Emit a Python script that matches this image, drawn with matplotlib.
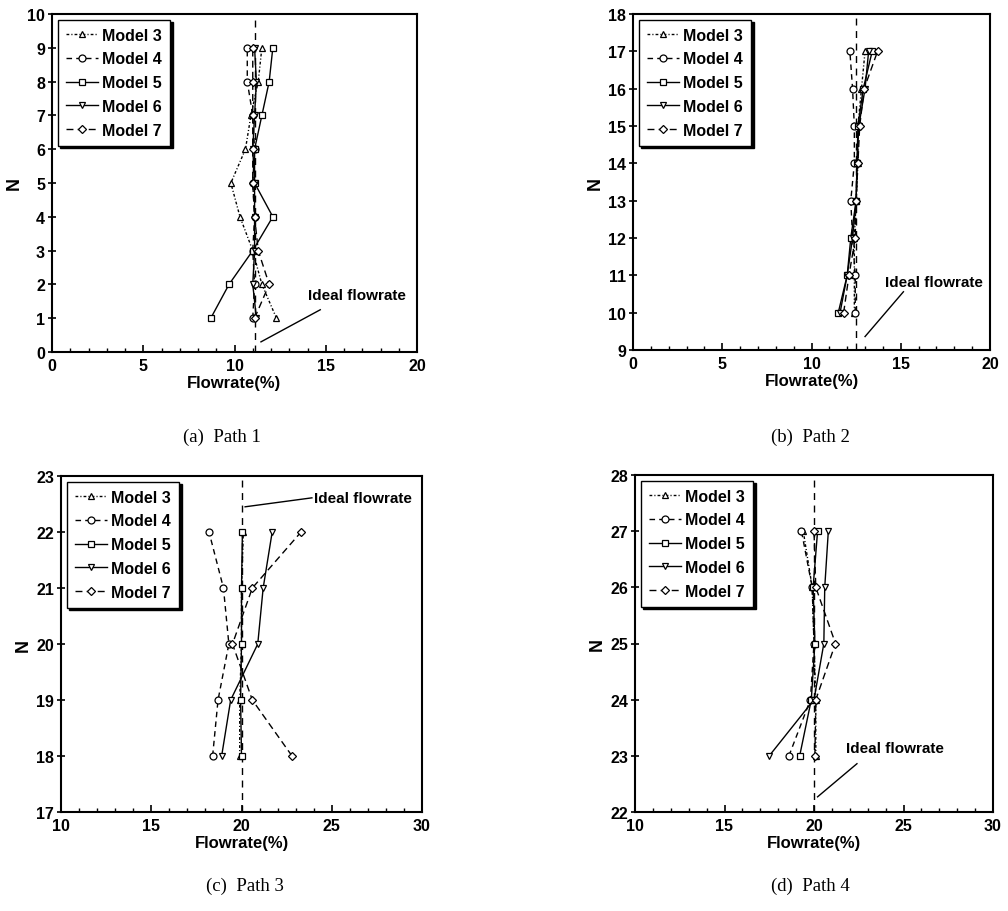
import matplotlib
matplotlib.use("Agg")
import matplotlib.pyplot as plt
from matplotlib.ticker import MultipleLocator

# ---------------- data ----------------
models = ["Model 3", "Model 4", "Model 5", "Model 6", "Model 7"]

a_N = [1, 2, 3, 4, 5, 6, 7, 8, 9]
a_m3 = [12.3, 11.5, 11.0, 10.3, 9.8, 10.6, 10.9, 11.3, 11.5]
a_m4 = [11.0, 11.1, 11.0, 11.1, 11.0, 11.1, 11.0, 10.7, 10.7]
a_m5 = [8.7, 9.7, 11.0, 12.1, 11.1, 11.1, 11.5, 11.9, 12.1]
a_m6 = [11.2, 11.0, 11.1, 11.1, 11.1, 11.0, 11.1, 11.2, 11.1]
a_m7 = [11.1, 11.9, 11.3, 11.1, 11.0, 11.0, 11.0, 11.0, 11.0]

b_N = [10, 11, 12, 13, 14, 15, 16, 17]
b_m3 = [12.4, 12.4, 12.4, 12.5, 12.6, 12.6, 12.8, 13.0]
b_m4 = [12.45, 12.45, 12.3, 12.2, 12.4, 12.4, 12.3, 12.15]
b_m5 = [11.5, 12.0, 12.2, 12.5, 12.55, 12.6, 12.9, 13.4]
b_m6 = [11.6, 12.0, 12.3, 12.5, 12.55, 12.65, 13.0, 13.2]
b_m7 = [11.8, 12.1, 12.45, 12.5, 12.6, 12.7, 12.95, 13.7]

c_N = [18, 19, 20, 21, 22]
c_m3 = [19.9, 19.9, 20.0, 20.0, 20.1]
c_m4 = [18.4, 18.7, 19.3, 19.0, 18.2]
c_m5 = [20.0, 19.95, 20.0, 20.0, 20.05]
c_m6 = [18.9, 19.4, 20.9, 21.2, 21.7]
c_m7 = [22.8, 20.6, 19.5, 20.6, 23.3]

d_N = [23, 24, 25, 26, 27]
d_m3 = [20.1, 20.1, 20.0, 19.9, 19.4]
d_m4 = [18.6, 19.8, 20.0, 19.9, 19.3]
d_m5 = [19.2, 19.85, 20.05, 19.95, 20.2]
d_m6 = [17.5, 20.0, 20.55, 20.6, 20.8]
d_m7 = [20.05, 20.1, 21.2, 20.1, 20.0]

ideal = [100 / 9, 12.5, 20.0, 20.0]
captions = ["(a)  Path 1", "(b)  Path 2", "(c)  Path 3", "(d)  Path 4"]
xlims = [(0, 20), (0, 20), (10, 30), (10, 30)]
ylims = [(0, 10), (9, 18), (17, 23), (22, 28)]

# ---------------- style ----------------
W, H = 1008, 912
fig = plt.figure(figsize=(W / 100, H / 100), dpi=100)
fig.patch.set_facecolor("white")

narrow = ["Liberation Sans Narrow", "Liberation Sans", "DejaVu Sans"]
serif = ["Liberation Serif", "DejaVu Serif"]

styles = [
    dict(marker="^", linestyle=(0, (2, 1.5, 0.8, 1.5))),
    dict(marker="o", linestyle=(0, (4, 3))),
    dict(marker="s", linestyle="-"),
    dict(marker="v", linestyle="-"),
    dict(marker="D", linestyle=(0, (5, 3)), markersize=4.5),
]

# axes pixel boxes: left, top, right, bottom
boxes = [(52, 15, 417, 353), (633, 15, 990, 351), (61, 477, 422, 813), (635, 476, 993, 813)]
cap_pos = [(222, 437), (810, 437), (245, 886), (810, 886)]

# annotation: text position (x, y data), line from, line to
annots = [
    ((14.0, 1.69), (14.7, 1.25), (11.45, 0.3)),
    ((14.1, 10.83), (15.15, 10.56), (13.0, 9.36)),
    ((24.0, 22.61), (23.9, 22.61), (20.2, 22.45)),
    ((21.8, 23.14), (22.4, 22.86), (20.2, 22.27)),
]

series = [
    (a_N, [a_m3, a_m4, a_m5, a_m6, a_m7]),
    (b_N, [b_m3, b_m4, b_m5, b_m6, b_m7]),
    (c_N, [c_m3, c_m4, c_m5, c_m6, c_m7]),
    (d_N, [d_m3, d_m4, d_m5, d_m6, d_m7]),
]

for i, (Ns, vals) in enumerate(series):
    l, t, r, b = boxes[i]
    ax = fig.add_axes([l / W, 1 - b / H, (r - l) / W, (b - t) / H])
    for name, v, st in zip(models, vals, styles):
        kw = dict(color="black", lw=1.0, markersize=5, markerfacecolor="white",
                  markeredgecolor="black", markeredgewidth=0.9)
        kw.update(st)
        ax.plot(v, Ns, label=name, **kw)
    ax.axvline(ideal[i], color="black", lw=1.0, linestyle=(0, (5, 4)), zorder=1)
    ax.set_xlim(*xlims[i])
    ax.set_ylim(*ylims[i])
    ax.xaxis.set_major_locator(MultipleLocator(5))
    ax.xaxis.set_minor_locator(MultipleLocator(1))
    ax.yaxis.set_major_locator(MultipleLocator(1))
    ax.tick_params(axis="x", which="major", direction="in", length=5, width=1.2,
                   top=False, labelsize=11.5, pad=4)
    ax.tick_params(axis="x", which="minor", direction="in", length=3, width=1.0, top=False)
    ax.tick_params(axis="y", which="major", direction="inout", length=6, width=1.2,
                   right=False, labelsize=11.5, pad=2)
    for lab in ax.get_xticklabels() + ax.get_yticklabels():
        lab.set_family(narrow)
        lab.set_fontweight("bold")
    for sp in ax.spines.values():
        sp.set_linewidth(1.5)
    ax.set_xlabel("Flowrate(%)", family=narrow, fontweight="bold", fontsize=12, labelpad=2)
    ax.set_ylabel("N", family=narrow, fontweight="bold", fontsize=13, labelpad=3)

    (tx, ty), (x1, y1), (x2, y2) = annots[i]
    ax.text(tx, ty, "Ideal flowrate", family=narrow, fontweight="bold", fontsize=11,
            ha="left", va="center")
    ax.plot([x1, x2], [y1, y2], color="black", lw=1.0)

    leg = ax.legend(loc="upper left", frameon=True, fancybox=False,
                    shadow={"color": "black", "alpha": 1.0},
                    handlelength=2.0, handletextpad=0.3, labelspacing=0.55,
                    borderpad=0.5, borderaxespad=0.35, numpoints=1,
                    prop={"family": narrow, "weight": "bold", "size": 11.5})
    leg.get_frame().set_edgecolor("black")
    leg.get_frame().set_linewidth(1.0)

    cx, cy = cap_pos[i]
    fig.text(cx / W, 1 - cy / H, captions[i], family=serif, fontsize=13.5,
             ha="center", va="center")

fig.savefig("out.png", dpi=100, facecolor="white")
